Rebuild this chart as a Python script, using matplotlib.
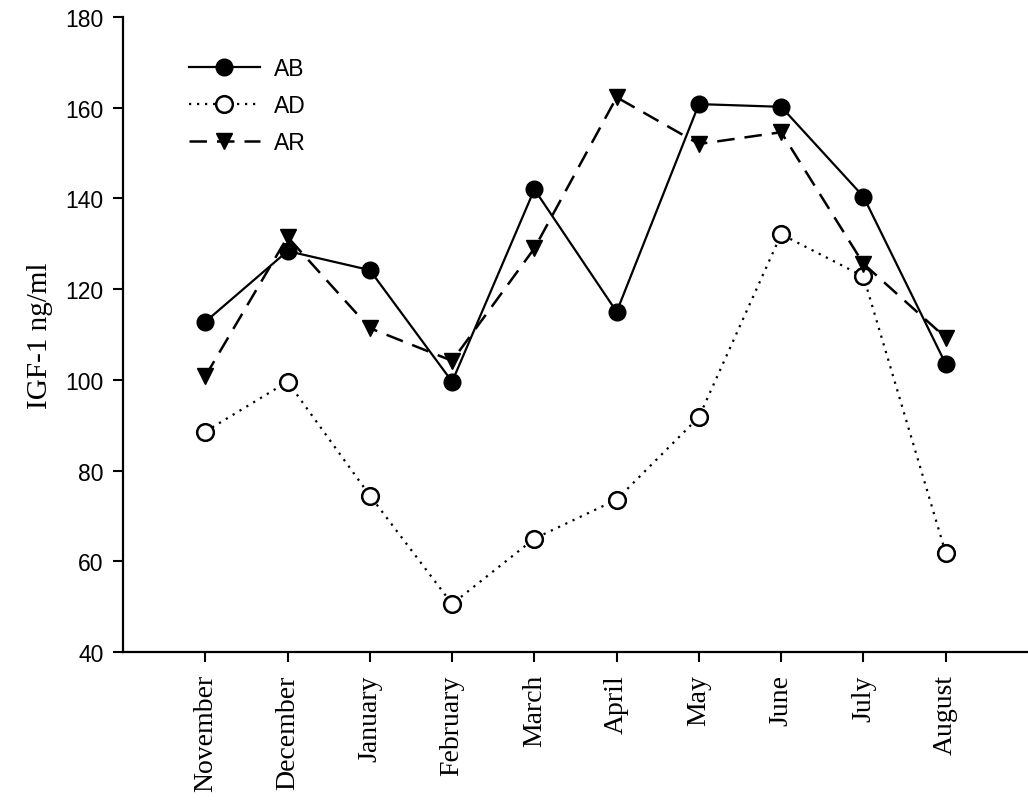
import matplotlib
matplotlib.use("Agg")
import matplotlib.pyplot as plt
import numpy as np

months = ["November", "December", "January", "February", "March",
          "April", "May", "June", "July", "August"]
ab = [112.8, 128.4, 124.2, 99.6, 142.0, 115.0, 160.8, 160.2, 140.4, 103.5]
ad = [88.6, 99.6, 74.5, 50.6, 65.0, 73.6, 91.8, 132.1, 122.8, 61.8]
ar = [100.8, 131.5, 111.4, 104.2, 129.0, 162.3, 152.0, 154.6, 125.6, 109.3]

yticks = [40, 60, 80, 100, 120, 140, 160, 180]

fig = plt.figure(figsize=(10.28, 8.04), dpi=100)
ax = fig.add_axes([0.1197, 0.1878, 0.8803, 0.7898])

x = np.arange(len(months))
ax.plot(x, ab, "-", color="black", lw=1.6, marker="o", ms=12,
        mfc="black", mec="black", label="AB")
ax.plot(x, ad, color="black", lw=1.6, ls=(0, (1, 2.6)), marker="o", ms=12,
        mfc="white", mec="black", mew=1.8, label="AD")
ax.plot(x, ar, color="black", lw=1.8, ls=(0, (7, 4)), marker="v", ms=12,
        mfc="black", mec="black", label="AR")

ax.set_xlim(-1, 10.0)
ax.set_ylim(40, 180)
ax.set_xticks(x)
ax.set_xticklabels(months, rotation=90, family="Liberation Serif", fontsize=20)
ax.set_yticks(yticks)
ax.set_yticklabels([str(v) for v in yticks], family="Liberation Sans", fontsize=16.5)
ax.tick_params(axis="both", direction="out", length=7, width=1.5)
ax.tick_params(axis="y", pad=7)
ax.tick_params(axis="x", pad=9)
ax.set_ylabel("IGF-1 ng/ml", family="Liberation Serif", fontsize=21, labelpad=9)

for side in ["top", "right"]:
    ax.spines[side].set_visible(False)
for side in ["left", "bottom"]:
    ax.spines[side].set_linewidth(1.6)

ax.legend(loc="upper left", bbox_to_anchor=(0.05, 0.97), frameon=False,
          prop={"family": "Liberation Sans", "size": 16.5},
          handlelength=3.1, handletextpad=0.6, labelspacing=0.62)

fig.savefig("out.png", dpi=100)
